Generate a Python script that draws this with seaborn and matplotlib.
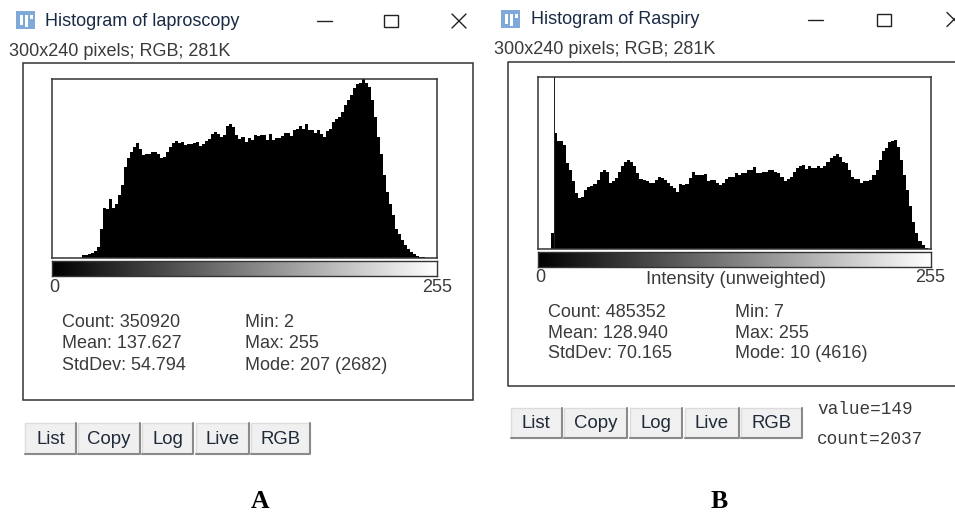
import matplotlib
matplotlib.use('Agg')
import matplotlib.pyplot as plt
import numpy as np
import seaborn as sns
from matplotlib.patches import Rectangle

W, H = 955, 512
SANS = 'Liberation Sans'
TEXT_COL = '#3a3a3a'

# counts per two grey levels
counts_a = [0, 0, 0, 0, 0, 0, 0, 0, 0, 0,
            40, 50, 65, 80, 105, 165, 440, 755, 740, 890,
            755, 815, 940, 1090, 1365, 1505, 1590, 1665, 1725, 1640,
            1540, 1565, 1555, 1590, 1590, 1555, 1505, 1515, 1590, 1665,
            1725, 1755, 1725, 1740, 1690, 1705, 1715, 1725, 1740, 1680,
            1715, 1755, 1790, 1865, 1890, 1865, 1815, 1840, 1975, 2015,
            1965, 1840, 1790, 1815, 1740, 1805, 1765, 1840, 1825, 1840,
            1840, 1765, 1865, 1775, 1805, 1805, 1825, 1875, 1880, 1825,
            1925, 1940, 1975, 1940, 2005, 1925, 1925, 1875, 1915, 1855,
            1815, 1905, 1940, 2040, 2090, 2115, 2190, 2290, 2365, 2440,
            2540, 2605, 2615, 2682, 2615, 2555, 2365, 2115, 1815, 1565,
            1240, 990, 815, 640, 440, 365, 265, 190, 140, 90,
            55, 25, 10, 15, 0, 0, 0, 0]
counts_b = [0, 0, 0, 0, 415, 3050, 2835, 2835, 2745, 2260,
            2085, 1780, 1470, 1340, 1365, 1560, 1645, 1665, 1715, 1820,
            2040, 2085, 2040, 1735, 1780, 1865, 2040, 2175, 2305, 2350,
            2305, 2175, 2000, 1840, 1820, 1780, 1750, 1735, 1820, 1910,
            1865, 1805, 1735, 1665, 1600, 1515, 1705, 1690, 1715, 1865,
            2040, 1955, 1955, 1955, 1980, 1780, 1805, 1820, 1735, 1690,
            1735, 1840, 1890, 1910, 2000, 1955, 2015, 2015, 2070, 2085,
            2155, 2015, 2000, 2040, 2037, 2070, 2070, 2040, 2000, 1910,
            1780, 1840, 1910, 2040, 2130, 2190, 2220, 2105, 2175, 2130,
            2130, 2175, 2130, 2175, 2280, 2395, 2455, 2500, 2420, 2305,
            2260, 2085, 1890, 1850, 1840, 1750, 1780, 1795, 1805, 1955,
            2085, 2350, 2570, 2660, 2810, 2835, 2860, 2700, 2350, 1955,
            1560, 1120, 720, 415, 220, 105, 25, 0]
mode_level_b = [10]
mode_count_b = [4616]

stats_left_a = ['Count: 350920', 'Mean: 137.627', 'StdDev: 54.794']
stats_right_a = ['Min: 2', 'Max: 255', 'Mode: 207 (2682)']
stats_left_b = ['Count: 485352', 'Mean: 128.940', 'StdDev: 70.165']
stats_right_b = ['Min: 7', 'Max: 255', 'Mode: 10 (4616)']
button_labels = ['List', 'Copy', 'Log', 'Live', 'RGB']

sns.set_theme(style='white')
plt.rcParams['font.family'] = [SANS, 'DejaVu Sans']

fig = plt.figure(figsize=(W / 100, H / 100), dpi=100, facecolor='white')
# page axes in pixel coordinates, for the window furniture
page = fig.add_axes([0, 0, 1, 1])
page.set_xlim(0, W)
page.set_ylim(H, 0)
page.axis('off')


def px_axes(x0, y0, x1, y1):
    return fig.add_axes([x0 / W, 1 - y1 / H, (x1 - x0) / W, (y1 - y0) / H])


def histogram(box, counts, ymax):
    ax = px_axes(*box)
    levels = list(range(0, 256, 2))
    sns.histplot(x=levels, weights=counts, bins=list(range(0, 258, 2)), element='step',
                 color='black', alpha=1, linewidth=0, ax=ax)
    ax.set_xlim(0, 256)
    ax.set_ylim(0, ymax)
    ax.set_xticks([])
    ax.set_yticks([])
    ax.set_xlabel('')
    ax.set_ylabel('')
    for s in ax.spines.values():
        s.set_color('#333333')
        s.set_linewidth(1.1)
    return ax


def ramp(box):
    ax = px_axes(*box)
    ax.imshow(np.arange(256).reshape(1, -1), cmap='gray', aspect='auto', vmin=0, vmax=255)
    ax.set_xticks([])
    ax.set_yticks([])
    for s in ax.spines.values():
        s.set_color('#333333')
        s.set_linewidth(1)


def title_bar(x_icon, y_icon, title, x_title, y_title, x_min, x_max, x_close, y_mid):
    page.add_patch(Rectangle((x_icon, y_icon), 19, 18, fc='#7fa9d8', ec='none'))
    page.add_patch(Rectangle((x_icon + 4, y_icon + 4), 3, 10, fc='white', ec='none'))
    page.add_patch(Rectangle((x_icon + 9, y_icon + 4), 3, 12, fc='white', ec='none'))
    page.add_patch(Rectangle((x_icon + 14, y_icon + 4), 3, 4, fc='white', ec='none'))
    page.text(x_title, y_title, title, fontsize=13, color='#1a2a44', va='center', ha='left')
    page.plot([x_min, x_min + 15], [y_mid, y_mid], color='#222222', lw=1)
    page.add_patch(Rectangle((x_max, y_mid - 6), 14, 12, fc='none', ec='#222222', lw=1))
    page.plot([x_close, x_close + 14], [y_mid - 7, y_mid + 7], color='#222222', lw=1)
    page.plot([x_close, x_close + 14], [y_mid + 7, y_mid - 7], color='#222222', lw=1)


def stats(x_left, x_right, rows, left, right):
    for y, a, b in zip(rows, left, right):
        page.text(x_left, y, a, fontsize=13, color=TEXT_COL, va='center')
        page.text(x_right, y, b, fontsize=13, color=TEXT_COL, va='center')


def buttons(edges, y0, y1):
    for (x0, x1), label in zip(edges, button_labels):
        page.add_patch(Rectangle((x0, y0), x1 - x0, y1 - y0, fc='#f0f0f0', ec='none'))
        page.plot([x0, x0, x1], [y1, y0, y0], color='#dcdcdc', lw=1)
        page.plot([x0, x1, x1], [y1, y1, y0], color='#8a8a8a', lw=1.5)
        page.text((x0 + x1) / 2, (y0 + y1) / 2 + 0.5, label, fontsize=13.4, color='#1f2a3a',
                  ha='center', va='center')


# panel A
title_bar(16, 11, 'Histogram of laproscopy', 45, 22, 317, 384, 452, 21)
page.text(9, 51, '300x240 pixels; RGB; 281K', fontsize=13, color=TEXT_COL, va='center')
page.add_patch(Rectangle((22.7, 63), 450, 337, fc='none', ec='#333333', lw=1.1))
histogram((52, 79, 437, 258), counts_a, 2682)
ramp((52, 261, 437, 276))
page.text(54, 288, '0', fontsize=13, color=TEXT_COL, ha='center', va='center')
page.text(437, 288, '255', fontsize=13, color=TEXT_COL, ha='center', va='center')
stats(61.5, 245, [322.5, 343.5, 365], stats_left_a, stats_right_a)
buttons([(25, 76), (77.5, 140), (142, 193), (196, 249), (251, 310)], 423, 454)
page.text(260, 502, 'A', fontsize=18.5, fontweight='bold', family='Liberation Serif',
          color='black', ha='center', va='center')

# panel B
title_bar(501, 10, 'Histogram of Raspiry', 530.5, 20, 808, 877, 947, 19.5)
page.text(494, 50, '300x240 pixels; RGB; 281K', fontsize=13, color=TEXT_COL, va='center')
page.plot([960, 508, 508, 960], [62, 62, 386, 386], color='#333333', lw=1.1)
ax_b = histogram((538.3, 76.7, 930.7, 249), counts_b, 4540)
sns.histplot(x=mode_level_b, weights=mode_count_b, bins=[10, 11], element='step',
             color='#222222', alpha=1, linewidth=0, ax=ax_b)
ax_b.set_ylabel('')
ramp((538.3, 252, 930.7, 267))
page.text(540, 278, '0', fontsize=13, color=TEXT_COL, ha='center', va='center')
page.text(736, 279, 'Intensity (unweighted)', fontsize=13.2, color=TEXT_COL, ha='center', va='center')
page.text(930.5, 278, '255', fontsize=13, color=TEXT_COL, ha='center', va='center')
stats(547.7, 735, [312.5, 333, 353], stats_left_b, stats_right_b)
buttons([(510.5, 562), (564, 627), (629.5, 682), (684.5, 739), (741, 802)], 407.5, 438)
page.text(817, 409, 'value=149', fontsize=12.8, family='Liberation Mono', color=TEXT_COL, va='center')
page.text(817, 440, 'count=2037', fontsize=12.8, family='Liberation Mono', color=TEXT_COL, va='center')
page.text(719, 502, 'B', fontsize=18.5, fontweight='bold', family='Liberation Serif',
          color='black', ha='center', va='center')

fig.savefig('out.png', dpi=100, facecolor='white')
plt.close(fig)
